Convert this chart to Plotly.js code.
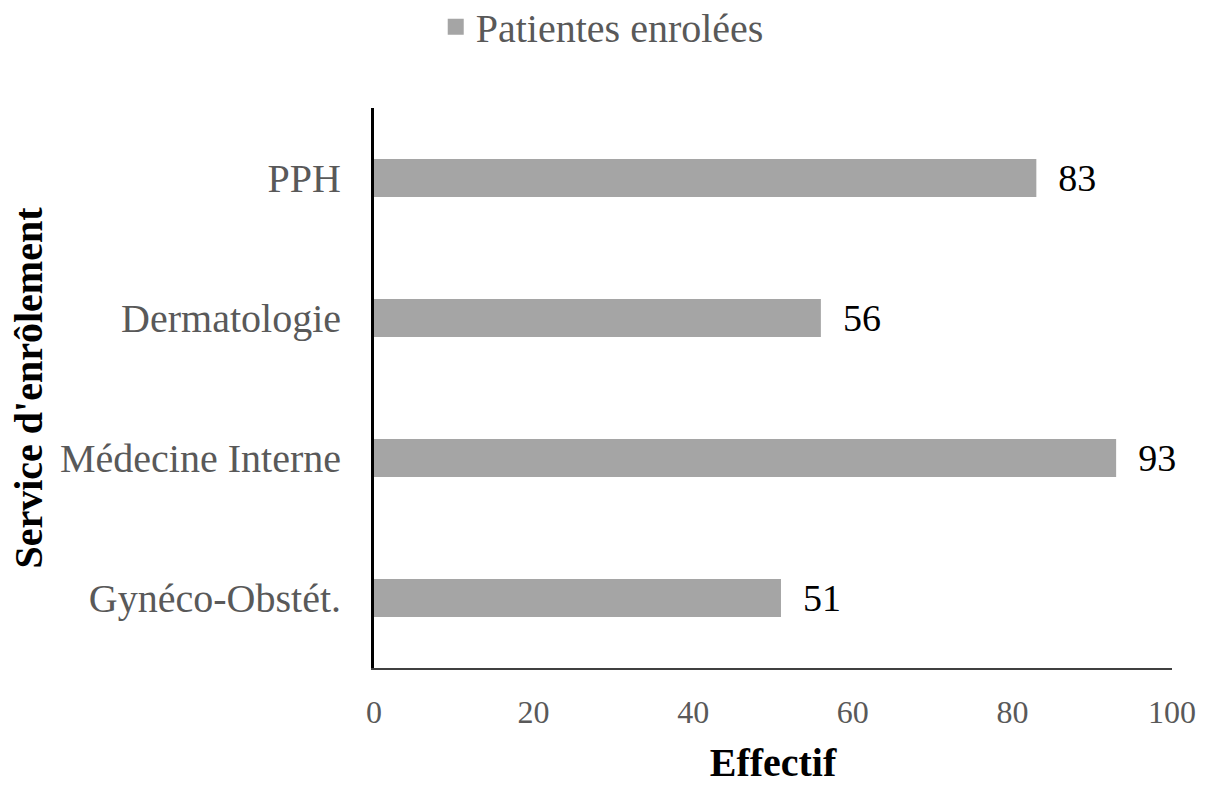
<!DOCTYPE html>
<html>
<head>
<meta charset="utf-8">
<script src="https://cdn.plot.ly/plotly-3.0.1.min.js"></script>
<style>html,body{margin:0;padding:0;background:#fff;}#chart{width:1205px;height:785px;}</style>
</head>
<body>
<div id="chart"></div>
<script>
const categories = ["Gynéco-Obstét.", "Médecine Interne", "Dermatologie", "PPH"];
const values = [51, 93, 56, 83];
const seriesName = "Patientes enrolées";
const xTicks = [0, 20, 40, 60, 80, 100];

const FONT = "Liberation Serif";
const BAR_COLOR = "#a5a5a5";

const trace = {
  type: "bar",
  orientation: "h",
  x: values,
  y: categories,
  name: seriesName,
  marker: {color: BAR_COLOR},
  width: 0.27,
  text: values.map(v => String(v)),
  texttemplate: "  %{text}",
  textposition: "outside",
  constraintext: "none",
  textfont: {family: FONT, size: 38, color: "#000000"},
  cliponaxis: false,
  showlegend: false
};

// legend entry (larger square swatch)
const legendTrace = {
  type: "scatter",
  mode: "markers",
  x: [null],
  y: [null],
  name: seriesName,
  marker: {symbol: "square", size: 18, color: BAR_COLOR},
  showlegend: true,
  hoverinfo: "skip"
};

const layout = {
  width: 1205,
  height: 785,
  paper_bgcolor: "#ffffff",
  plot_bgcolor: "#ffffff",
  margin: {l: 374, r: 33, t: 108, b: 117, pad: 0, autoexpand: false},
  font: {family: FONT, color: "#595959"},
  showlegend: true,
  legend: {
    orientation: "h",
    x: 0.286, xanchor: "center",
    y: 1.145, yanchor: "middle",
    font: {family: FONT, size: 40, color: "#595959"},
    itemwidth: 30
  },
  xaxis: {
    range: [0, 100],
    tickvals: xTicks,
    ticktext: xTicks.map(String),
    showgrid: false,
    zeroline: false,
    showline: true,
    linecolor: "#404040",
    linewidth: 2,
    ticks: "",
    ticklabelstandoff: 15,
    tickfont: {family: FONT, size: 32, color: "#595959"},
    title: {text: "<b>Effectif</b>", font: {family: FONT, size: 40, color: "#000000"}, standoff: 22}
  },
  yaxis: {
    categoryorder: "array",
    categoryarray: categories,
    showgrid: false,
    zeroline: false,
    showline: true,
    linecolor: "#000000",
    linewidth: 3,
    ticks: "",
    ticklabelstandoff: 22,
    tickfont: {family: FONT, size: 40, color: "#595959"},
    title: {text: "<b>Service d'enrôlement</b>", font: {family: FONT, size: 40, color: "#000000"}, standoff: 6}
  }
};

Plotly.newPlot("chart", [trace, legendTrace], layout, {displayModeBar: false, staticPlot: true});
</script>
</body>
</html>
